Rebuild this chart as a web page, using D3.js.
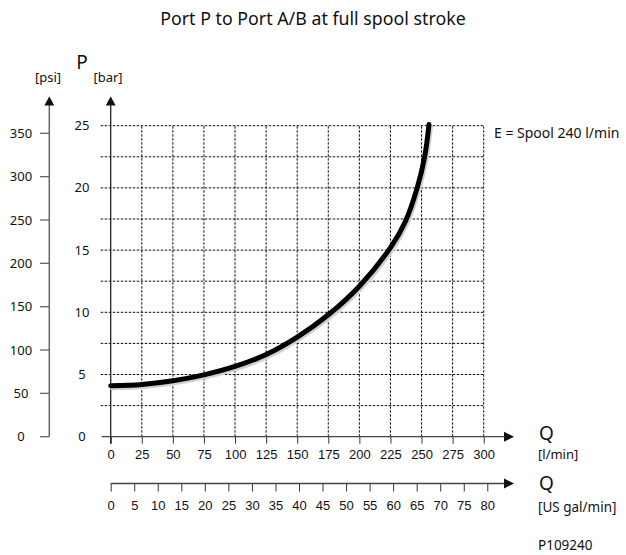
<!DOCTYPE html>
<meta charset="utf-8">
<style>
  body { margin: 0; background: #fff; }
  svg { display: block; font-family: "Noto Sans", "Open Sans", sans-serif; }
  .grid line { stroke: #111; stroke-width: 1; stroke-dasharray: 2.5, 1.5; }
  .tick text { font-size: 13px; fill: #111; }
</style>
<svg width="626" height="555"></svg>
<script src="https://cdn.jsdelivr.net/npm/d3@7"></script>
<script>
// data
var flow = [0, 25, 50, 75, 100, 125, 150, 175, 200, 225, 237, 246.5, 252.5, 256];             // l/min
var pressure = [4.1, 4.2, 4.5, 4.97, 5.65, 6.6, 8.0, 9.8, 12.1, 15.2, 17.3, 20, 22.5, 25.1];   // bar
var flowTicks = [0, 25, 50, 75, 100, 125, 150, 175, 200, 225, 250, 275, 300];
var galTicks = [0, 5, 10, 15, 20, 25, 30, 35, 40, 45, 50, 55, 60, 65, 70, 75, 80];
var barTicks = [0, 5, 10, 15, 20, 25];
var barGrid = [2.5, 5, 7.5, 10, 12.5, 15, 17.5, 20, 22.5, 25];
var psiTicks = [0, 50, 100, 150, 200, 250, 300, 350];
var title = "Port P to Port A/B at full spool stroke";
var seriesLabel = "E = Spool 240 l/min";

var svg = d3.select("svg");

var x = d3.scaleLinear().domain([0, 300]).range([110.7, 483.7]);
var xg = d3.scaleLinear().domain([0, 80]).range([110.7, 487.3]);
var y = d3.scaleLinear().domain([0, 25]).range([436.7, 125.7]);
var yp = d3.scaleLinear().domain([0, 350]).range([436.7, 133.3]);

var x0 = x(0), y0 = y(0);

// title
svg.append("text").attr("x", 313).attr("y", 25).attr("text-anchor", "middle")
  .attr("font-size", 17.8).attr("fill", "#111").text(title);

// grid
var grid = svg.append("g").attr("class", "grid");
grid.selectAll(".h").data(barGrid).enter().append("line")
  .attr("x1", x0 - 10).attr("x2", x(300))
  .attr("y1", function(d) { return y(d); }).attr("y2", function(d) { return y(d); });
grid.selectAll(".v").data(flowTicks.slice(1)).enter().append("line")
  .attr("x1", function(d) { return x(d); }).attr("x2", function(d) { return x(d); })
  .attr("y1", y0).attr("y2", y(25));

// arrow helper
function arrow(px, py, dir) {
  var p = dir === "up"
    ? [[px, py], [px - 5, py + 9], [px + 5, py + 9]]
    : [[px, py], [px - 10, py - 5], [px - 10, py + 5]];
  svg.append("path").attr("d", "M" + p.join("L") + "Z").attr("fill", "#111");
}

// x axis (l/min)
var gx = svg.append("g").attr("transform", "translate(0," + y0 + ")")
  .call(d3.axisBottom(x).tickValues(flowTicks).tickSize(7).tickPadding(6));
gx.select(".domain").remove();
gx.selectAll(".tick line").attr("stroke", "#333");
svg.append("line").attr("x1", x0 - 9).attr("x2", 505).attr("y1", y0).attr("y2", y0)
  .attr("stroke", "#444").attr("stroke-width", 1.3);
arrow(514, y0, "right");

// x axis (US gal/min)
var yGal = 483.5;
var gg = svg.append("g").attr("transform", "translate(0," + yGal + ")")
  .call(d3.axisBottom(xg).tickValues(galTicks).tickSize(8).tickPadding(9));
gg.select(".domain").remove();
gg.selectAll(".tick line").attr("stroke", "#333");
svg.append("line").attr("x1", x0).attr("x2", 505).attr("y1", yGal).attr("y2", yGal)
  .attr("stroke", "#444").attr("stroke-width", 1.3);
arrow(514, yGal, "right");

// bar axis
svg.append("line").attr("x1", x0).attr("x2", x0).attr("y1", y0 + 7).attr("y2", 104)
  .attr("stroke", "#222").attr("stroke-width", 1.3);
arrow(x0, 96.5, "up");
svg.append("g").selectAll("text").data(barTicks).enter().append("text")
  .attr("x", 82).attr("y", function(d) { return y(d); }).attr("dy", "0.35em")
  .attr("text-anchor", "middle").attr("font-size", 13).attr("fill", "#111")
  .text(function(d) { return d; });

// psi axis
var xPsi = 49.3;
svg.append("line").attr("x1", xPsi).attr("x2", xPsi).attr("y1", y0).attr("y2", 104)
  .attr("stroke", "#666").attr("stroke-width", 1.5);
arrow(xPsi, 96.5, "up");
var gp = svg.append("g").selectAll("g").data(psiTicks).enter().append("g")
  .attr("transform", function(d) { return "translate(0," + yp(d) + ")"; });
gp.append("line").attr("x1", 40).attr("x2", xPsi).attr("stroke", "#666").attr("stroke-width", 1.3);
gp.append("text").attr("x", 21).attr("dy", "0.35em").attr("text-anchor", "middle")
  .attr("font-size", 13).attr("fill", "#111").text(function(d) { return d; });

// axis titles
svg.append("text").attr("x", 82).attr("y", 69).attr("text-anchor", "middle").attr("font-size", 19).attr("fill", "#111").text("P");
svg.append("text").attr("x", 48).attr("y", 82).attr("text-anchor", "middle").attr("font-size", 13).attr("fill", "#111").text("[psi]");
svg.append("text").attr("x", 108).attr("y", 82).attr("text-anchor", "middle").attr("font-size", 13).attr("fill", "#111").text("[bar]");
svg.append("text").attr("x", 539).attr("y", 440).attr("font-size", 19).attr("fill", "#111").text("Q");
svg.append("text").attr("x", 538).attr("y", 459).attr("font-size", 13).attr("fill", "#111").text("[l/min]");
svg.append("text").attr("x", 539).attr("y", 490).attr("font-size", 19).attr("fill", "#111").text("Q");
svg.append("text").attr("x", 538).attr("y", 512).attr("font-size", 13.5).attr("fill", "#111").text("[US gal/min]");
svg.append("text").attr("x", 538).attr("y", 550).attr("font-size", 13.5).attr("fill", "#111").text("P109240");
svg.append("text").attr("x", 494).attr("y", 138).attr("font-size", 14).attr("fill", "#111").text(seriesLabel);

// curve
var pts = flow.map(function(d, i) { return [d, pressure[i]]; });
var line = d3.line().x(function(d) { return x(d[0]); }).y(function(d) { return y(d[1]); })
  .curve(d3.curveCatmullRom.alpha(0.5));
svg.append("path").attr("d", line(pts)).attr("fill", "none").attr("stroke", "#d0d0d0")
  .attr("stroke-width", 5).attr("stroke-linecap", "round").attr("transform", "translate(1.5,2)");
svg.append("path").attr("d", line(pts)).attr("fill", "none").attr("stroke", "#000")
  .attr("stroke-width", 5).attr("stroke-linecap", "round");
</script>
